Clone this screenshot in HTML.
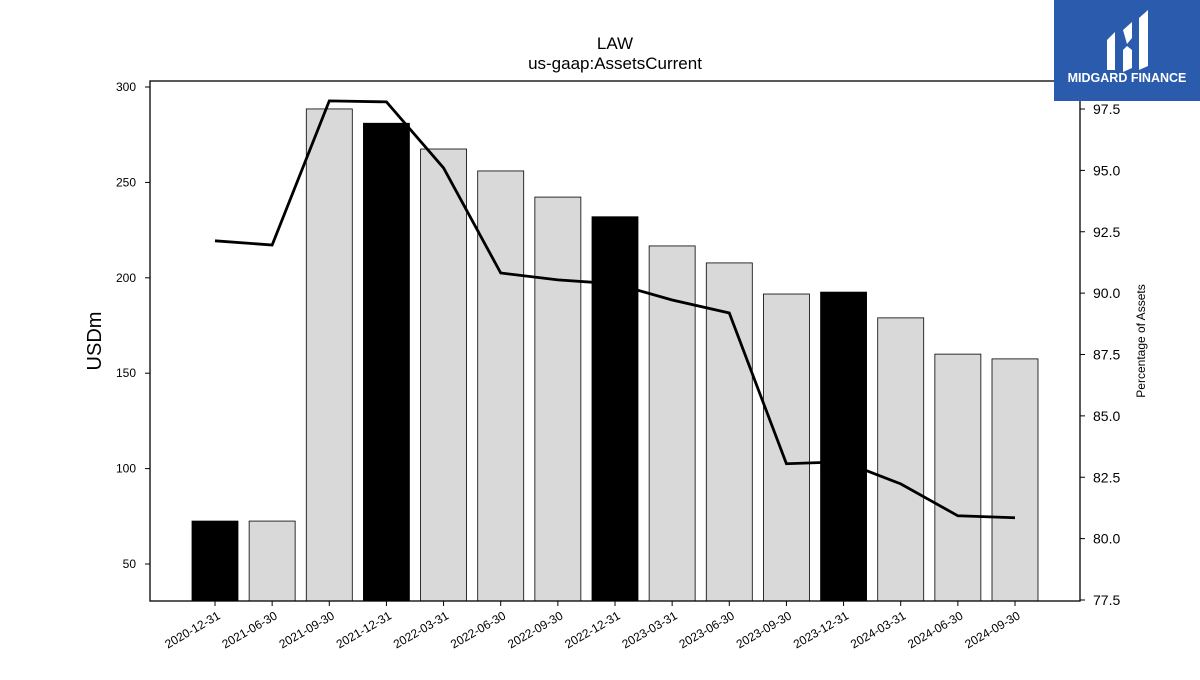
<!DOCTYPE html>
<html><head><meta charset="utf-8"><style>
body{margin:0;background:#fff;width:1200px;height:675px;overflow:hidden;font-family:"Liberation Sans",sans-serif}
</style></head><body>
<svg id="chart" width="1200" height="675" xmlns="http://www.w3.org/2000/svg" font-family="Liberation Sans, sans-serif">
<text x="615" y="49" text-anchor="middle" font-size="17">LAW</text>
<text x="615" y="69" text-anchor="middle" font-size="17">us-gaap:AssetsCurrent</text>
<g id="bars"></g><g id="line"></g><g id="axes"></g>
<text transform="translate(101,341) rotate(-90)" text-anchor="middle" font-size="20">USDm</text>
<text transform="translate(1145,341) rotate(-90)" text-anchor="middle" font-size="12">Percentage of Assets</text>
<g>
<rect x="1054" y="0" width="146" height="101" fill="#2b5bad"/>
<path d="M1107,40 L1115,32 L1115,70 L1107,70 Z M1123,30 L1132,22 L1132,38 L1127,44 Z M1123,50 L1127,46 L1132,50 L1132,68 L1123,72 Z M1139,18 L1148,10 L1148,66 L1139,70 Z" fill="#fff"/>
<text x="1127" y="82" text-anchor="middle" fill="#fff" font-size="12.5" font-weight="bold">MIDGARD FINANCE</text>
</g>
</svg>
<script>
const dates=["2020-12-31","2021-06-30","2021-09-30","2021-12-31","2022-03-31","2022-06-30","2022-09-30","2022-12-31","2023-03-31","2023-06-30","2023-09-30","2023-12-31","2024-03-31","2024-06-30","2024-09-30"];
const assetsCurrent=[72.5,72.5,288.5,281,267.5,256,242.3,232,216.7,207.8,191.5,192.5,179,160,157.5];
const pctAssets=[92.13,91.96,97.83,97.79,95.1,90.82,90.54,90.38,89.72,89.19,83.05,83.13,82.23,80.93,80.85];
const blackIdx=[0,3,7,11];
const leftTicks=[50,100,150,200,250,300];
const rightTicks=[77.5,80.0,82.5,85.0,87.5,90.0,92.5,95.0,97.5];
const NS="http://www.w3.org/2000/svg";
const L=150,R=1080,T=81,B=601;
const xS=i=>215+i*(1015-215)/14;
const yL=v=>87+(300-v)*(564-87)/250;
const yR=v=>109+(97.5-v)*(600-109)/20;
function mk(tag,attrs,parent){const e=document.createElementNS(NS,tag);for(const k in attrs)e.setAttribute(k,attrs[k]);parent.appendChild(e);return e;}
const gb=document.getElementById('bars'),gl=document.getElementById('line'),ga=document.getElementById('axes');
assetsCurrent.forEach((v,i)=>{
 const r=mk('rect',{x:xS(i)-23,y:yL(v),width:46,height:B-yL(v),fill:blackIdx.includes(i)?'#000':'#d9d9d9',stroke:'#000','stroke-width':0.8},gb);
 
 
});
const pl=mk('polyline',{points:pctAssets.map((v,i)=>xS(i)+','+yR(v)).join(' '),fill:'none',stroke:'#000','stroke-width':2.8},gl);


const fr=mk('rect',{x:L,y:T,width:R-L,height:B-T,fill:'none',stroke:'#000','stroke-width':1.3},ga);


leftTicks.forEach(v=>{
 mk('line',{x1:L-5,x2:L,y1:yL(v),y2:yL(v),stroke:'#000'},ga);
 const t=mk('text',{x:L-14,y:yL(v)+4,'text-anchor':'end','font-size':12},ga);t.textContent=v;
 
 
});
rightTicks.forEach(v=>{
 mk('line',{x1:R,x2:R+5,y1:yR(v),y2:yR(v),stroke:'#000'},ga);
 const t=mk('text',{x:R+13,y:yR(v)+5,'font-size':14},ga);t.textContent=v.toFixed(1);
 
 
});
dates.forEach((d,i)=>{
 mk('line',{x1:xS(i),x2:xS(i),y1:B,y2:B+5,stroke:'#000'},ga);
 const t=mk('text',{transform:`translate(${xS(i)+6},${B+17}) rotate(-30)`,'text-anchor':'end','font-size':12},ga);t.textContent=d;
 
 
});
</script>
</body></html>
